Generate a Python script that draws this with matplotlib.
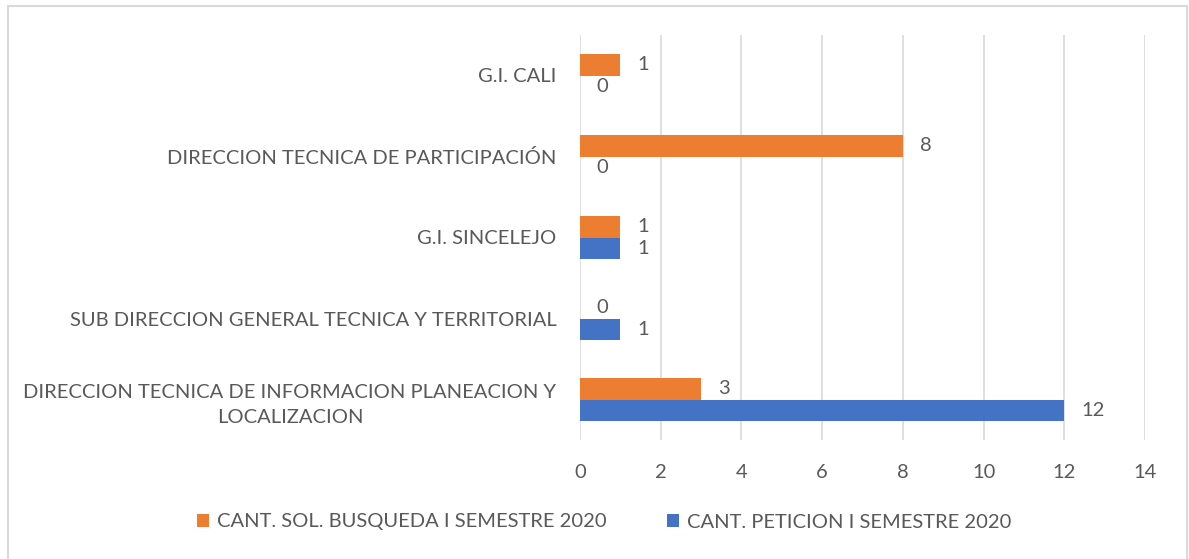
import matplotlib.pyplot as plt
from matplotlib.patches import Rectangle
import numpy as np

plt.rcParams['font.family'] = ['Lato', 'DejaVu Sans']

categorias = ['DIRECCION TECNICA DE INFORMACION PLANEACION Y\nLOCALIZACION',
              'SUB DIRECCION GENERAL TECNICA Y TERRITORIAL',
              'G.I. SINCELEJO',
              'DIRECCION TECNICA DE PARTICIPACIÓN',
              'G.I. CALI']
busqueda = [3, 0, 1, 8, 1]
peticion = [12, 1, 1, 0, 0]
serie_busqueda = 'CANT. SOL. BUSQUEDA I SEMESTRE 2020'
serie_peticion = 'CANT. PETICION I SEMESTRE 2020'

naranja = '#ED7D31'
azul = '#4472C4'
gris = '#595959'
fs = 14.5

W, H = 1189, 559
fig = plt.figure(figsize=(W / 100, H / 100), dpi=100)
ax = fig.add_axes([580 / W, 1 - 440 / H, 565 / W, 405 / H])

y = np.arange(len(categorias))
h = 0.26
b1 = ax.barh(y + h / 2, busqueda, height=h, color=naranja, label=serie_busqueda)
b2 = ax.barh(y - h / 2, peticion, height=h, color=azul, label=serie_peticion)
ax.bar_label(b1, padding=12, fontsize=fs, color=gris)
ax.bar_label(b2, padding=12, fontsize=fs, color=gris)

ax.set_xlim(0, 14)
ax.set_ylim(-0.5, len(categorias) - 0.5)
ax.set_xticks(range(0, 15, 2))
ax.set_yticks(y)
ax.set_yticklabels(categorias, multialignment='center', linespacing=1.55)
ax.tick_params(axis='both', length=0, labelsize=fs, labelcolor=gris)
ax.tick_params(axis='x', pad=17)
ax.tick_params(axis='y', pad=17)
ax.grid(axis='x', color='#D9D9D9', linewidth=1.2)
ax.set_axisbelow(True)
for s in ax.spines.values():
    s.set_visible(False)

handles = [b1, b2]
fig.legend(handles, [serie_busqueda, serie_peticion], loc='center',
           bbox_to_anchor=(604 / W, 1 - 522 / H), ncol=2, frameon=False,
           fontsize=fs, labelcolor=gris, handlelength=0.6, handleheight=0.6,
           handletextpad=0.4, columnspacing=3.0)

fig.patches.append(Rectangle((8 / W, 1 - 562 / H), 1179 / W, 556 / H,
                             transform=fig.transFigure, fill=False,
                             edgecolor='#D9D9D9', linewidth=1.5))

fig.savefig('out.png', dpi=100)
